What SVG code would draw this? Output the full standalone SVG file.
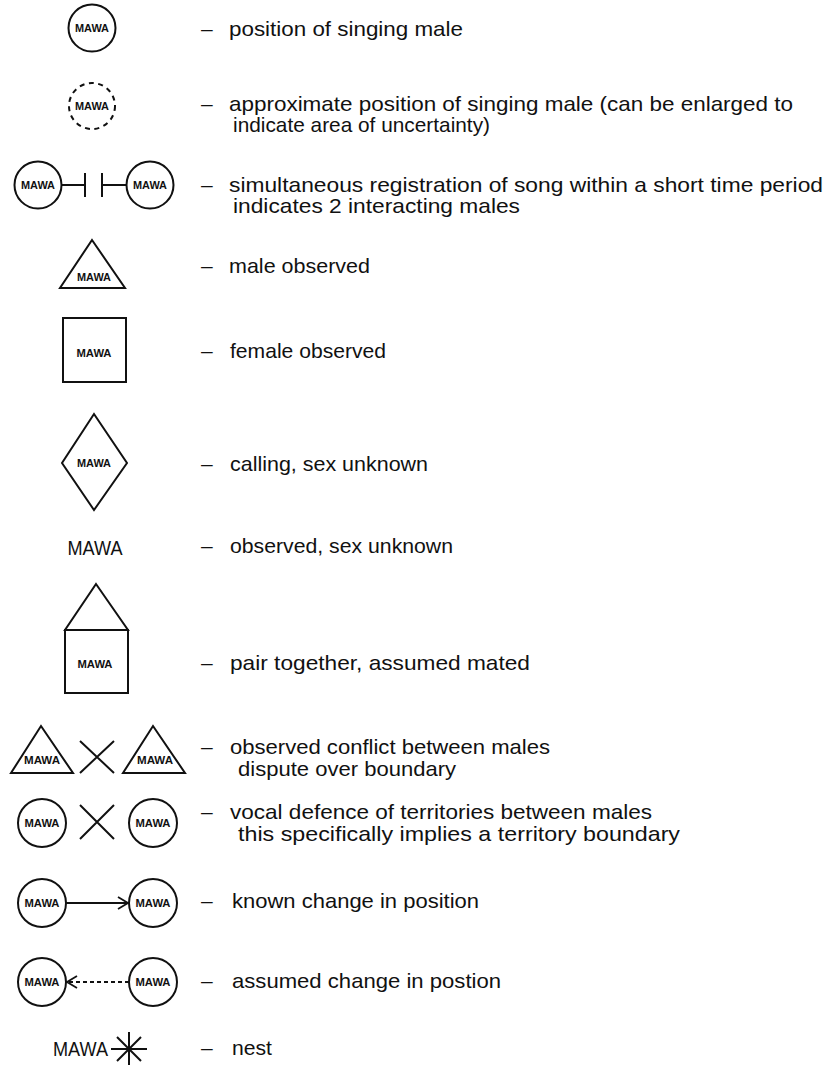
<svg xmlns="http://www.w3.org/2000/svg" width="834" height="1065" viewBox="0 0 834 1065">
<style>
.s{fill:none;stroke:#111;stroke-width:2}
.m{font-family:"Liberation Sans",Arial,sans-serif;font-weight:bold;font-size:10px;fill:#111;text-anchor:middle}
.big{font-family:"Liberation Sans",Arial,sans-serif;font-size:21px;fill:#111}
.t{font-family:"Liberation Sans",Arial,sans-serif;font-size:21px;fill:#111}
</style>
<defs>
<marker id="chev" markerUnits="userSpaceOnUse" markerWidth="14" markerHeight="16" refX="12" refY="8" orient="auto">
<path d="M2,2 L12,8 L2,14" fill="none" stroke="#111" stroke-width="1.8"/>
</marker>
</defs>
<rect width="834" height="1065" fill="#fff"/>

<g id="row1-singing">
<circle class="s" cx="92" cy="28" r="23.5"/>
<text class="m" x="92" y="31.5" textLength="34" lengthAdjust="spacingAndGlyphs">MAWA</text>
</g>
<g id="row2-approx">
<circle class="s" cx="92" cy="106" r="23" stroke-dasharray="5 4.5"/>
<text class="m" x="92" y="109.5" textLength="34" lengthAdjust="spacingAndGlyphs">MAWA</text>
</g>
<g id="row3-left">
<circle class="s" cx="38" cy="185" r="23.5"/>
<text class="m" x="38" y="188.5" textLength="34" lengthAdjust="spacingAndGlyphs">MAWA</text>
</g>
<g id="row3-right">
<circle class="s" cx="150" cy="185" r="23.5"/>
<text class="m" x="150" y="188.5" textLength="34" lengthAdjust="spacingAndGlyphs">MAWA</text>
</g>
<g id="row4-male">
<polygon class="s" points="92,240 125,288 60,288"/>
<text class="m" x="94" y="280.5" textLength="34" lengthAdjust="spacingAndGlyphs">MAWA</text>
</g>
<g id="row5-female">
<rect class="s" x="63" y="318" width="63" height="64"/>
<text class="m" x="94" y="356.5" textLength="35" lengthAdjust="spacingAndGlyphs">MAWA</text>
</g>
<g id="row6-calling">
<polygon class="s" points="94,414 127,463 94,510 62,463"/>
<text class="m" x="94" y="466.5" textLength="34" lengthAdjust="spacingAndGlyphs">MAWA</text>
</g>
<g id="row7-observed">
<text class="big" x="95" y="555" text-anchor="middle" textLength="55" lengthAdjust="spacingAndGlyphs">MAWA</text>
</g>
<g id="row8-pair">
<polygon class="s" points="96,584 128,630 65,630"/>
<rect class="s" x="65" y="630" width="63" height="63"/>
<text class="m" x="95" y="667.5" textLength="35" lengthAdjust="spacingAndGlyphs">MAWA</text>
</g>
<g id="row9-left">
<polygon class="s" points="41,726 73,773 11,773"/>
<text class="m" x="42" y="763.5" textLength="36" lengthAdjust="spacingAndGlyphs">MAWA</text>
</g>
<g id="row9-right">
<polygon class="s" points="153,726 185,773 123,773"/>
<text class="m" x="155" y="763.5" textLength="36" lengthAdjust="spacingAndGlyphs">MAWA</text>
</g>
<g id="row10-left">
<circle class="s" cx="42" cy="823" r="24"/>
<text class="m" x="42" y="826.5" textLength="35" lengthAdjust="spacingAndGlyphs">MAWA</text>
</g>
<g id="row10-right">
<circle class="s" cx="153" cy="823" r="24"/>
<text class="m" x="153" y="826.5" textLength="35" lengthAdjust="spacingAndGlyphs">MAWA</text>
</g>
<g id="row11-left">
<circle class="s" cx="42" cy="903" r="24"/>
<text class="m" x="42" y="906.5" textLength="35" lengthAdjust="spacingAndGlyphs">MAWA</text>
</g>
<g id="row11-right">
<circle class="s" cx="153" cy="903" r="24"/>
<text class="m" x="153" y="906.5" textLength="35" lengthAdjust="spacingAndGlyphs">MAWA</text>
</g>
<g id="row12-left">
<circle class="s" cx="42" cy="982" r="24"/>
<text class="m" x="42" y="985.5" textLength="35" lengthAdjust="spacingAndGlyphs">MAWA</text>
</g>
<g id="row12-right">
<circle class="s" cx="153" cy="982" r="24"/>
<text class="m" x="153" y="985.5" textLength="35" lengthAdjust="spacingAndGlyphs">MAWA</text>
</g>
<g id="row13-nest">
<text class="big" x="53" y="1056" textLength="55" lengthAdjust="spacingAndGlyphs">MAWA</text>
<path class="s" d="M111,1049 H147 M129,1032 V1065 M117,1037 L141,1061 M141,1037 L117,1061"/>
</g>

<g id="connectors">
<path class="s" d="M61.5,185 H85 M85,173 V197"/>
<path class="s" d="M126.5,185 H102 M102,173 V197"/>
<path class="s" d="M80,741 L114,773 M80,773 L114,741"/>
<path class="s" d="M80,805 L114,839 M80,839 L114,805"/>
<line class="s" x1="66" y1="903" x2="128" y2="903" stroke-width="1.5" marker-end="url(#chev)"/>
<line class="s" x1="129" y1="982" x2="67" y2="982" stroke-width="1.5" stroke-dasharray="4 3" marker-end="url(#chev)"/>
</g>

<g id="labels">
<text class="t" x="201" y="36">–</text><text class="t" x="229" y="36" textLength="234" lengthAdjust="spacingAndGlyphs">position of singing male</text>
<text class="t" x="201" y="111">–</text><text class="t" x="229" y="111" textLength="564" lengthAdjust="spacingAndGlyphs">approximate position of singing male (can be enlarged to</text>
<text class="t" x="233" y="132" textLength="257" lengthAdjust="spacingAndGlyphs">indicate area of uncertainty)</text>
<text class="t" x="201" y="192">–</text><text class="t" x="229" y="192" textLength="594" lengthAdjust="spacingAndGlyphs">simultaneous registration of song within a short time period</text>
<text class="t" x="233" y="213" textLength="287" lengthAdjust="spacingAndGlyphs">indicates 2 interacting males</text>
<text class="t" x="201" y="273">–</text><text class="t" x="229" y="273" textLength="141" lengthAdjust="spacingAndGlyphs">male observed</text>
<text class="t" x="201" y="358">–</text><text class="t" x="230" y="358" textLength="156" lengthAdjust="spacingAndGlyphs">female observed</text>
<text class="t" x="201" y="471">–</text><text class="t" x="230" y="471" textLength="198" lengthAdjust="spacingAndGlyphs">calling, sex unknown</text>
<text class="t" x="201" y="553">–</text><text class="t" x="230" y="553" textLength="223" lengthAdjust="spacingAndGlyphs">observed, sex unknown</text>
<text class="t" x="201" y="670">–</text><text class="t" x="230" y="670" textLength="300" lengthAdjust="spacingAndGlyphs">pair together, assumed mated</text>
<text class="t" x="201" y="754">–</text><text class="t" x="230" y="754" textLength="320" lengthAdjust="spacingAndGlyphs">observed conflict between males</text>
<text class="t" x="238" y="776" textLength="218" lengthAdjust="spacingAndGlyphs">dispute over boundary</text>
<text class="t" x="201" y="819">–</text><text class="t" x="230" y="819" textLength="422" lengthAdjust="spacingAndGlyphs">vocal defence of territories between males</text>
<text class="t" x="238" y="841" textLength="442" lengthAdjust="spacingAndGlyphs">this specifically implies a territory boundary</text>
<text class="t" x="201" y="908">–</text><text class="t" x="232" y="908" textLength="247" lengthAdjust="spacingAndGlyphs">known change in position</text>
<text class="t" x="201" y="988">–</text><text class="t" x="232" y="988" textLength="269" lengthAdjust="spacingAndGlyphs">assumed change in postion</text>
<text class="t" x="201" y="1055">–</text><text class="t" x="232" y="1055" textLength="40" lengthAdjust="spacingAndGlyphs">nest</text>
</g>
</svg>
